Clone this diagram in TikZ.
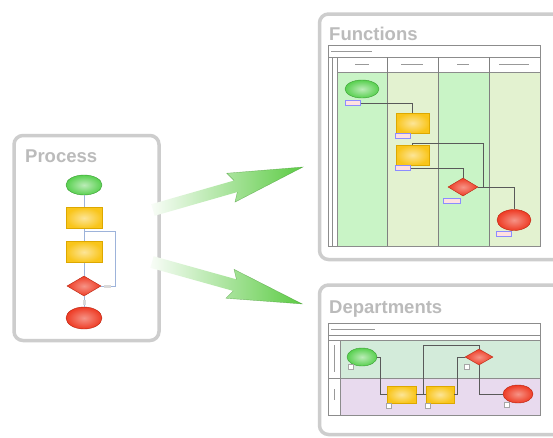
\documentclass[tikz,border=0pt]{standalone}
\usepackage{fontspec}
\setmainfont{Liberation Sans}
\usetikzlibrary{shapes.geometric,arrows.meta}
\definecolor{panel}{HTML}{CDCDCD}
\definecolor{ttl}{HTML}{BBBBBB}
\definecolor{arrg}{HTML}{5CCB44}
\definecolor{gfill}{HTML}{58D04F}
\definecolor{gdraw}{HTML}{3A9E34}
\definecolor{yfill}{HTML}{F9C51A}
\definecolor{ydraw}{HTML}{DDA800}
\definecolor{rfill}{HTML}{EE3B24}
\definecolor{rdraw}{HTML}{B8240F}
\definecolor{laneA}{HTML}{C9F4C6}
\definecolor{laneB}{HTML}{E3F2D0}
\definecolor{deptA}{HTML}{D3EBDA}
\definecolor{deptB}{HTML}{E8DAEE}
\definecolor{pline}{HTML}{9DB3DA}
\begin{document}
\begin{tikzpicture}[x=1pt,y=-1pt,
  panelbox/.style={draw=panel,line width=3.5pt,rounded corners=9pt,fill=white},
  title/.style={anchor=base west,inner sep=0pt,text=ttl,font=\fontsize{18.5}{20}\selectfont\bfseries},
  startnode/.style={ellipse,draw=gdraw,line width=0.4pt,inner color=gfill!40,outer color=gfill,inner sep=0pt},
  endnode/.style={ellipse,draw=rdraw,line width=0.4pt,inner color=rfill!55,outer color=rfill,inner sep=0pt},
  actbox/.style={rectangle,draw=ydraw,line width=0.4pt,inner color=yfill!45,outer color=yfill,inner sep=0pt},
  decide/.style={diamond,draw=rdraw,line width=0.4pt,inner color=rfill!55,outer color=rfill,inner sep=0pt},
  pconn/.style={draw=pline,line width=1pt},
  fconn/.style={draw=black!65,line width=0.5pt},
  tline/.style={draw=black!45,line width=0.5pt},
  lanediv/.style={draw=black!50,line width=0.8pt},
  txt/.style={draw=black!40,line width=0.9pt},
  lbl/.style={rectangle,draw=blue!45,fill=red!12,line width=0.4pt,minimum width=15pt,minimum height=5pt,inner sep=0pt},
  sq/.style={rectangle,draw=black!35,fill=white,line width=0.4pt,minimum width=5pt,minimum height=5pt,inner sep=0pt},
  bigarrow/.style={left color=arrg!4,middle color=arrg!50,right color=arrg},
  headedge/.style={draw=arrg!75!black,line width=0.4pt,draw opacity=0.6}
]
\useasboundingbox (0,0) rectangle (553,437);
\fill[white] (0,0) rectangle (553,437);

% ---------------- Process panel
\draw[panelbox] (14,135.5) rectangle (159,340.5);
\node[title] (tp) at (25,162) {Process};
\node[startnode,minimum width=36pt,minimum height=20pt] (p1) at (84,185) {};
\node[actbox,minimum width=36pt,minimum height=21pt] (p2) at (84,218) {};
\node[actbox,minimum width=36pt,minimum height=21pt] (p3) at (84,252) {};
\node[decide,minimum width=34pt,minimum height=20pt] (p4) at (84,286) {};
\node[endnode,minimum width=36pt,minimum height=22pt] (p5) at (84,318) {};
\draw[pconn] (p1) -- (p2);
\draw[pconn] (p2) -- (p3);
\draw[pconn] (p3) -- (p4);
\draw[pconn] (p4) -- (p5);
\coordinate (pl1) at (115,286);
\coordinate (pl2) at (115,231);
\coordinate (pl3) at (84,231);
\draw[pconn] (p4.east) -- (pl1) -- (pl2) -- (pl3);
\node[rectangle,fill=black!15,minimum width=7pt,minimum height=3pt,inner sep=0pt] (pn) at (107,286) {};
\node[rectangle,fill=black!15,minimum width=3pt,minimum height=5pt,inner sep=0pt] (py) at (84,302) {};

% ---------------- Arrows
\begin{scope}[shift={(153,210)},rotate=16]
  \shade[bigarrow]
    (0,-6) -- (86,-6) -- (81,-15) -- (156,0) -- (81,15) -- (86,6) -- (0,6) -- cycle;
  \draw[headedge] (86,-6) -- (81,-15) -- (156,0) -- (81,15) -- (86,6);
\end{scope}
\begin{scope}[shift={(152,262)},rotate=-15.6]
  \shade[bigarrow]
    (0,-6) -- (86,-6) -- (81,-15) -- (156,0) -- (81,15) -- (86,6) -- (0,6) -- cycle;
  \draw[headedge] (86,-6) -- (81,-15) -- (156,0) -- (81,15) -- (86,6);
\end{scope}

% ---------------- Functions panel
\draw[panelbox] (319.5,14) rectangle (580,259.5);
\node[title] (tf) at (329,40) {Functions};
\fill[white] (328,45) rectangle (540,246);
\fill[laneA] (337,72) rectangle (387,246);
\fill[laneB] (387,72) rectangle (438,246);
\fill[laneA] (438,72) rectangle (489,246);
\fill[laneB] (489,72) rectangle (540,246);
\draw[tline] (328,45) rectangle (540,246);
\draw[tline] (328,57) -- (540,57);
\draw[tline] (337,72) -- (540,72);
\draw[tline] (332,57) -- (332,246);
\draw[tline] (337,57) -- (337,246);
\draw[lanediv] (387,57) -- (387,246);
\draw[lanediv] (438,57) -- (438,246);
\draw[lanediv] (489,57) -- (489,246);
\draw[txt] (331,51) -- (372,51);
\draw[txt] (355,64.5) -- (369,64.5);
\draw[txt] (401,64.5) -- (423,64.5);
\draw[txt] (457,64.5) -- (469,64.5);
\draw[txt] (499,64.5) -- (529,64.5);

\node[startnode,minimum width=34pt,minimum height=18pt] (f1) at (362,89) {};
\node[actbox,minimum width=33pt,minimum height=20pt] (f2) at (412.5,123) {};
\node[actbox,minimum width=33pt,minimum height=20pt] (f3) at (412.5,155) {};
\node[decide,minimum width=30pt,minimum height=18pt] (f4) at (463,187) {};
\node[endnode,minimum width=34pt,minimum height=21pt] (f5) at (514,220) {};
\node[lbl] (fl1) at (353,103) {};
\node[lbl] (fl2) at (403,136) {};
\node[lbl] (fl3) at (403,168) {};
\node[lbl,minimum width=17pt] (fl4) at (452,201) {};
\node[lbl] (fl5) at (504,233.5) {};
\coordinate (fj) at (483,187);
\coordinate (fk) at (483,143);
\draw[fconn] (fl1.east) -| (f2.north);
\draw[fconn] (fl3.east) -| (f4.north);
\draw[fconn] (f4.east) -| (f5.north);
\draw[fconn] (fj) -- (fk) -| (f3.north);

% ---------------- Departments panel
\draw[panelbox] (319.5,285) rectangle (580,434.5);
\node[title] (td) at (329,313) {Departments};
\fill[white] (328,323) rectangle (540,415);
\fill[deptA] (340,340) rectangle (540,378);
\fill[deptB] (340,378) rectangle (540,415);
\draw[tline] (328,323) rectangle (540,415);
\draw[tline] (328,335) -- (540,335);
\draw[tline] (328,340) -- (540,340);
\draw[tline] (328,378) -- (540,378);
\draw[tline] (340,340) -- (340,415);
\draw[txt] (331,329) -- (375,329);
\draw[txt] (334,345) -- (334,372);
\draw[txt] (334,389) -- (334,400);

\node[startnode,minimum width=30pt,minimum height=18pt] (d1) at (362,357) {};
\node[actbox,minimum width=29pt,minimum height=17pt] (d2) at (401.5,394.5) {};
\node[actbox,minimum width=28pt,minimum height=17pt] (d3) at (440,394.5) {};
\node[decide,minimum width=28pt,minimum height=16pt] (d4) at (479,357) {};
\node[endnode,minimum width=30pt,minimum height=18pt] (d5) at (518,394) {};
\node[sq] (ds1) at (351,367) {};
\node[sq] (ds2) at (389,406) {};
\node[sq] (ds3) at (428,406) {};
\node[sq] (ds4) at (467,367) {};
\node[sq] (ds5) at (507,405) {};
\coordinate (da) at (380,357);
\coordinate (db) at (457,394.5);
\coordinate (dc) at (423,345);
\coordinate (dd) at (423,394.5);
\draw[fconn] (d1.east) -- (da) |- (d2.west);
\draw[fconn] (d2.east) -- (d3.west);
\draw[fconn] (d3.east) -- (db) |- (d4.west);
\draw[fconn] (d4.north) |- (dc) -- (dd);
\draw[fconn] (d4.south) |- (d5.west);
\end{tikzpicture}
\end{document}
